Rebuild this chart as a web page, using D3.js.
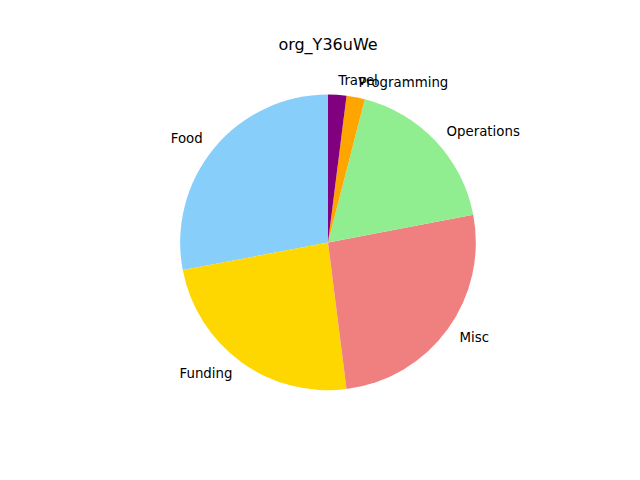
<!DOCTYPE html>
<html><head><meta charset="utf-8">
<script src="https://cdn.jsdelivr.net/npm/d3@7"></script>
<style>body{margin:0;background:#fff}svg{display:block}</style>
</head><body>
<script>
const categories = ["Food", "Funding", "Misc", "Operations", "Programming", "Travel"];
const values = [28, 24, 26, 18, 2, 2];
const colors = ["#87CEFA", "#FFD700", "#F08080", "#90EE90", "#FFA500", "#800080"];
const title = "org_Y36uWe";

const W = 640, H = 480;
const svg = d3.select("body").append("svg").attr("width", W).attr("height", H);
const cx = 328, cy = 242.4, R = 147.84;
const data = categories.map((c, i) => ({name: c, value: values[i], color: colors[i]}));
const pie = d3.pie().value(d => d.value).sort(null).startAngle(0).endAngle(-2 * Math.PI);
const arcs = pie(data);
const arc = d3.arc().innerRadius(0).outerRadius(R);
const g = svg.append("g").attr("transform", `translate(${cx},${cy})`);
g.selectAll("path").data(arcs).join("path").attr("d", arc).attr("fill", d => d.data.color);
g.selectAll("text").data(arcs).join("text")
  .attr("x", d => Math.sin((d.startAngle + d.endAngle) / 2) * R * 1.1)
  .attr("y", d => -Math.cos((d.startAngle + d.endAngle) / 2) * R * 1.1)
  .attr("text-anchor", d => Math.sin((d.startAngle + d.endAngle) / 2) > 0 ? "start" : "end")
  .attr("dominant-baseline", "central")
  .attr("font-family", "DejaVu Sans").attr("font-size", "13.33px").attr("fill", "#000")
  .text(d => d.data.name);
svg.append("text").attr("x", cx).attr("y", 50).attr("text-anchor", "middle")
  .attr("font-family", "DejaVu Sans").attr("font-size", "16px").text(title);
</script>
</body></html>
